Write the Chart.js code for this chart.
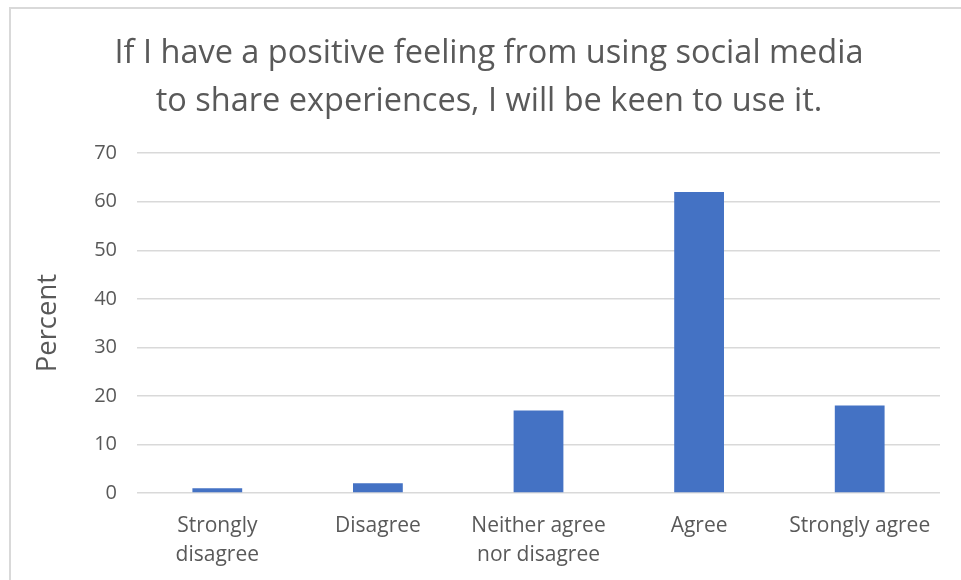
<!DOCTYPE html>
<html>
<head>
<meta charset="utf-8">
<script src="https://cdn.jsdelivr.net/npm/chart.js@4"></script>
<style>
  html, body { margin: 0; padding: 0; background: #fff; overflow: hidden; }
  #frame { position: absolute; left: 9px; top: 7px; width: 1000px; height: 700px;
           border-left: 2px solid #d9d9d9; border-top: 2px solid #d9d9d9; }
  #wrap { position: absolute; left: 0; top: 0; width: 961px; height: 580px; }
</style>
</head>
<body>
<div id="frame"></div>
<div id="wrap"><canvas id="chart" width="961" height="580"></canvas></div>
<script>
// answers to the survey item
const categories = [
  ['Strongly', 'disagree'],
  'Disagree',
  ['Neither agree', 'nor disagree'],
  'Agree',
  'Strongly agree'
];
const percents = [1, 2, 17, 62, 18];
const yTicks = [0, 10, 20, 30, 40, 50, 60, 70];
const titleLines = [
  'If I have a positive feeling from using social media',
  'to share experiences, I will be keen to use it.'
];

const textColor = '#595959';
const fontFamily = '"Open Sans", Lato, sans-serif';

const ctx = document.getElementById('chart');
new Chart(ctx, {
  type: 'bar',
  data: {
    labels: categories,
    datasets: [{
      label: 'Percent',
      data: percents,
      backgroundColor: '#4472C4',
      borderWidth: 0,
      barPercentage: 0.62,
      categoryPercentage: 0.5
    }]
  },
  options: {
    responsive: false,
    animation: false,
    devicePixelRatio: 1,
    layout: { padding: { left: 38, right: 21, top: 0, bottom: 0 } },
    plugins: {
      legend: { display: false },
      tooltip: { enabled: false },
      title: {
        display: true,
        text: titleLines,
        color: textColor,
        font: { family: fontFamily, size: 32.5, weight: 'normal', lineHeight: 1.48 },
        padding: { top: 30, bottom: 27 }
      }
    },
    scales: {
      x: {
        grid: { display: false, drawTicks: false },
        border: { display: false },
        ticks: {
          color: textColor,
          font: { family: fontFamily, size: 21, lineHeight: 1.4 },
          padding: 18,
          maxRotation: 0,
          autoSkip: false
        },
        afterFit: function(scale) { scale.height = 87; }
      },
      y: {
        min: 0,
        max: 70,
        afterBuildTicks: function(scale) {
          scale.ticks = yTicks.map(function(v) { return { value: v }; });
        },
        grid: { color: '#d9d9d9', lineWidth: 1.5, drawTicks: false },
        border: { display: false },
        ticks: {
          color: textColor,
          font: { family: fontFamily, size: 20 },
          padding: 20
        },
        title: {
          display: true,
          text: 'Percent',
          color: textColor,
          font: { family: fontFamily, size: 27.5, lineHeight: 0.75 },
          padding: 0
        },
        afterFit: function(scale) { scale.width = 137 - 38; }
      }
    }
  }
});
</script>
</body>
</html>
